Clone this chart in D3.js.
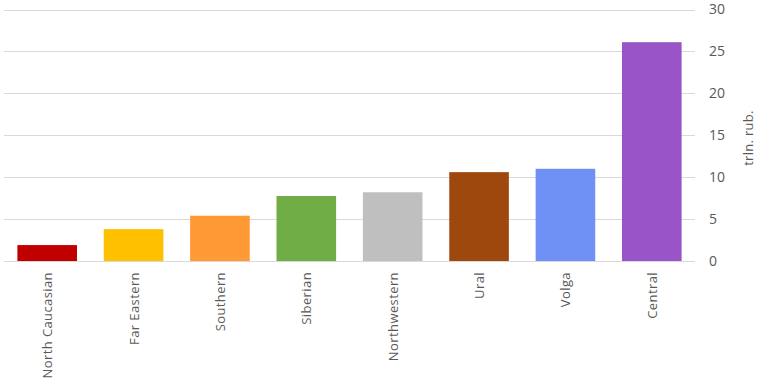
<!DOCTYPE html>
<html>
<head>
<meta charset="utf-8">
<script src="https://cdn.jsdelivr.net/npm/d3@7"></script>
<style>
  body { margin: 0; background: #fff; }
  svg text { font-family: "Open Sans", "Noto Sans", sans-serif; fill: #595959; }
</style>
</head>
<body>
<div id="chart"></div>
<script>
var regions = ["North Caucasian", "Far Eastern", "Southern", "Siberian", "Northwestern", "Ural", "Volga", "Central"];
var values = [1.9, 3.8, 5.4, 7.75, 8.2, 10.6, 11.0, 26.1];
var colors = ["#c00000", "#ffc000", "#ff9933", "#70ad47", "#bfbfbf", "#9e480e", "#6f90f4", "#9954c8"];
var yTicks = [0, 5, 10, 15, 20, 25, 30];

var width = 762;
var height = 382;
var margin = { top: 9.5, right: 67, bottom: 121, left: 4 };

var svg = d3.select("#chart")
  .append("svg")
  .attr("width", width)
  .attr("height", height);

var x = d3.scaleBand()
  .domain(regions)
  .range([margin.left, width - margin.right])
  .paddingInner(0.31)
  .paddingOuter(0.155);

var y = d3.scaleLinear()
  .domain([0, 30])
  .range([height - margin.bottom, margin.top]);

// gridlines
svg.append("g")
  .selectAll("line")
  .data(yTicks)
  .enter()
  .append("line")
  .attr("x1", margin.left)
  .attr("x2", width - margin.right)
  .attr("y1", function (d) { return Math.round(y(d)) + 0.5; })
  .attr("y2", function (d) { return Math.round(y(d)) + 0.5; })
  .attr("stroke", "#d9d9d9")
  .attr("stroke-width", 1);

// bars
svg.append("g")
  .selectAll("rect")
  .data(values)
  .enter()
  .append("rect")
  .attr("x", function (d, i) { return x(regions[i]); })
  .attr("width", x.bandwidth())
  .attr("y", function (d) { return y(d); })
  .attr("height", function (d) { return y(0) - y(d); })
  .attr("fill", function (d, i) { return colors[i]; });

// y axis on the right
var yAxis = d3.axisRight(y)
  .tickValues(yTicks)
  .tickSize(0)
  .tickPadding(14);

svg.append("g")
  .attr("transform", "translate(" + (width - margin.right) + ",0)")
  .call(yAxis)
  .call(function (g) { g.select(".domain").remove(); })
  .selectAll("text")
  .attr("font-size", "14px")
  .attr("font-family", "\"Open Sans\", sans-serif")
  .attr("fill", "#595959");

// axis title
svg.append("text")
  .attr("transform", "translate(753," + 138 + ") rotate(-90)")
  .attr("text-anchor", "middle")
  .attr("font-size", "13px")
  .attr("letter-spacing", "0.3px")
  .text("trln. rub.");

// category labels
svg.append("g")
  .selectAll("text")
  .data(regions)
  .enter()
  .append("text")
  .attr("transform", function (d) {
    return "translate(" + (x(d) + x.bandwidth() / 2 + 5) + "," + 272 + ") rotate(-90)";
  })
  .attr("text-anchor", "end")
  .attr("font-size", "13px")
  .attr("letter-spacing", "0.4px")
  .text(function (d) { return d; });
</script>
</body>
</html>
